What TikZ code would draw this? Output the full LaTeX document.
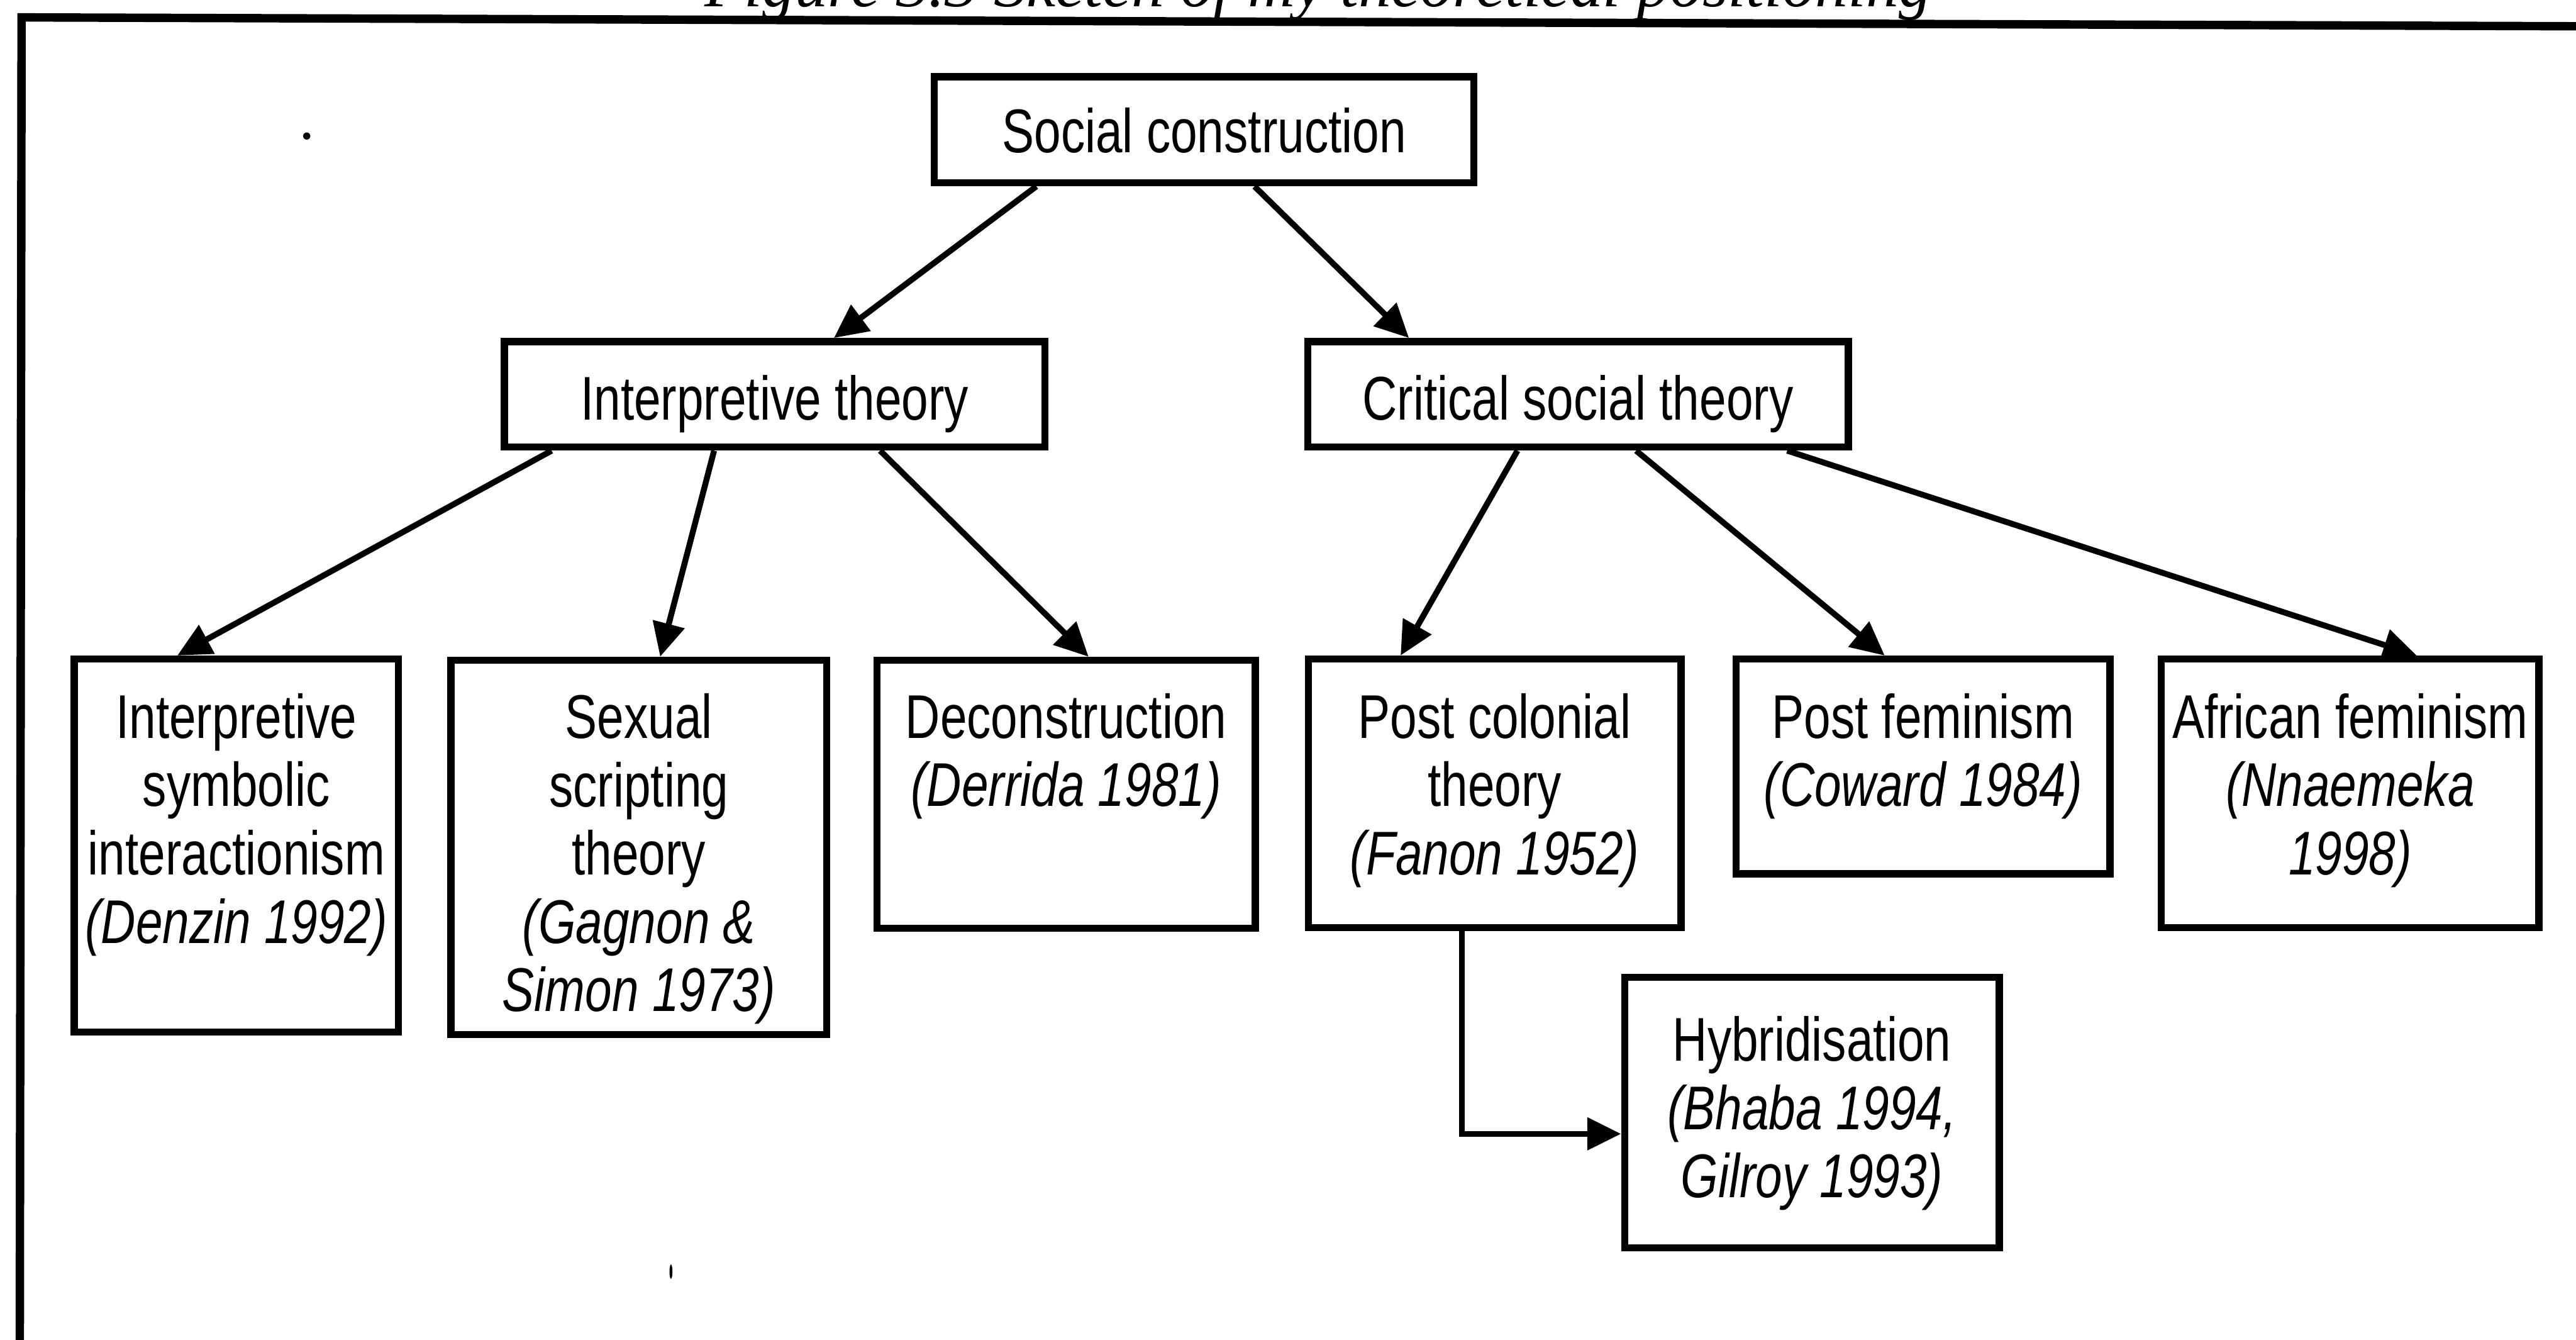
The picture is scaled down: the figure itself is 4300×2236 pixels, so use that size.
\documentclass[tikz,border=0pt]{standalone}
\usepackage{fontspec}
\setmainfont{Liberation Sans}[FakeStretch=0.78]
\newfontfamily\capfont{Liberation Serif}
\usetikzlibrary{arrows.meta}
\tikzset{
  box/.style={draw=black, line width=3.4pt, inner sep=0pt, fill=white},
  txt/.style={align=center, inner sep=0pt, font=\fontsize{29.3pt}{32.4pt}\selectfont},
  arr/.style={draw=black, line width=2.8pt, -{Triangle[length=16pt,width=15pt]}},
  frameline/.style={draw=black, line width=4pt, line join=miter},
}
\begin{document}
\begin{tikzpicture}[x=0.01cm, y=-0.01cm]
\clip (0,0) rectangle (4300,2236);
\fill[white] (0,0) rectangle (4300,2236);
% caption (cut off at the top)
\node[anchor=base, inner sep=0pt, font=\capfont\itshape\fontsize{31pt}{36pt}\selectfont] (cap) at (2200,11) {Figure 3.3 Sketch of my theoretical positioning};
% frame
\draw[frameline] (33,2300) -- (36,29) -- (4350,44);
% boxes
\node[box, minimum width=9.00cm, minimum height=1.77cm] (sc) at (2010,216.5) {};
\node[box, minimum width=9.02cm, minimum height=1.76cm] (it) at (1293,658) {};
\node[box, minimum width=9.02cm, minimum height=1.76cm] (cst) at (2634,658) {};
\node[box, minimum width=5.41cm, minimum height=6.22cm] (b1) at (394.5,1411) {};
\node[box, minimum width=6.27cm, minimum height=6.24cm] (b2) at (1066.5,1414) {};
\node[box, minimum width=6.31cm, minimum height=4.47cm] (b3) at (1779.5,1325.5) {};
\node[box, minimum width=6.22cm, minimum height=4.48cm] (b4) at (2495,1324) {};
\node[box, minimum width=6.24cm, minimum height=3.58cm] (b5) at (3210,1279) {};
\node[box, minimum width=6.30cm, minimum height=4.48cm] (b6) at (3923,1324) {};
\node[box, minimum width=6.25cm, minimum height=4.51cm] (hyb) at (3024.5,1856.5) {};
% texts
\node[txt] (sct) at (2010,232) {\strut Social construction};
\node[txt] (itt) at (1293,678) {\strut Interpretive theory};
\node[txt] (cstt) at (2634,678) {\strut Critical social theory};
\node[txt] (b1t) at (394.5,1380) {\strut Interpretive\\\strut symbolic\\\strut interactionism\\\strut\textit{(Denzin 1992)}};
\node[txt] (b2t) at (1066.5,1437) {\strut Sexual\\\strut scripting\\\strut theory\\\strut\textit{(Gagnon \&}\\\strut\textit{Simon 1973)}};
\node[txt] (b3t) at (1779.5,1266) {\strut Deconstruction\\\strut\textit{(Derrida 1981)}};
\node[txt] (b4t) at (2495,1323) {\strut Post colonial\\\strut theory\\\strut\textit{(Fanon 1952)}};
\node[txt] (b5t) at (3210,1266) {\strut Post feminism\\\strut\textit{(Coward 1984)}};
\node[txt] (b6t) at (3923,1323) {\strut African feminism\\\strut\textit{(Nnaemeka}\\\strut\textit{1998)}};
\node[txt] (hybt) at (3024.5,1862) {\strut Hybridisation\\\strut\textit{(Bhaba 1994,}\\\strut\textit{Gilroy 1993)}};
% connectors
\draw[arr] ([xshift=1.76cm]sc.south west) -- ([xshift=5.56cm]it.north west);
\draw[arr] ([xshift=5.40cm]sc.south west) -- ([xshift=1.75cm]cst.north west);
\draw[arr] ([xshift=0.85cm]it.south west) -- ([xshift=1.78cm]b1.north west);
\draw[arr] ([xshift=3.56cm]it.south west) -- ([xshift=3.55cm]b2.north west);
\draw[arr] ([xshift=6.33cm]it.south west) -- ([xshift=3.59cm]b3.north west);
\draw[arr] ([xshift=3.56cm]cst.south west) -- ([xshift=1.60cm]b4.north west);
\draw[arr] ([xshift=5.54cm]cst.south west) -- ([xshift=2.54cm]b5.north west);
\draw[arr] ([xshift=8.06cm]cst.south west) -- ([xshift=4.32cm]b6.north west);
\draw[arr] ([xshift=2.62cm]b4.south west) |- ([yshift=-2.67cm]hyb.north west);
% stray specks of the scan
\fill (512,227) circle[radius=0.06cm];
\fill (1120,2122) ellipse[x radius=0.025cm, y radius=0.12cm];
\end{tikzpicture}
\end{document}
